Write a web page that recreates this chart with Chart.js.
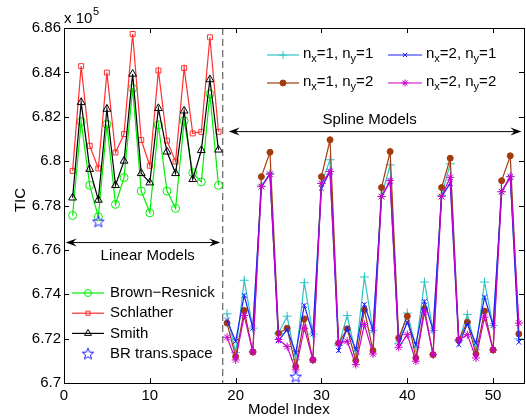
<!DOCTYPE html>
<html lang="en">
<head>
<meta charset="UTF-8">
<title>TIC vs Model Index</title>
<script src="https://cdn.jsdelivr.net/npm/chart.js@4.4.0/dist/chart.umd.min.js"></script>
<style>
  html, body { margin: 0; padding: 0; background: #fff; }
  #wrap { position: relative; width: 526px; height: 418px; }
</style>
</head>
<body>
<div id="wrap"><canvas id="c" width="526" height="418"></canvas></div>
<script>
// axis ticks
const xTicks = [0, 10, 20, 30, 40, 50];
const yTicks = [6.7, 6.72, 6.74, 6.76, 6.78, 6.8, 6.82, 6.84, 6.86];

// linear models, index 1..18 (TIC x 10^5)
const linearIdx = [1, 2, 3, 4, 5, 6, 7, 8, 9, 10, 11, 12, 13, 14, 15, 16, 17, 18];
const brownResnick = [6.7755, 6.8178, 6.7891, 6.7749, 6.8166, 6.7805, 6.7926, 6.8328, 6.7865,
  6.7767, 6.8163, 6.7865, 6.7787, 6.8182, 6.7948, 6.7906, 6.8303, 6.7891];
const schlather = [6.7956, 6.8428, 6.8069, 6.7967, 6.8399, 6.8039, 6.8122, 6.8573, 6.8095,
  6.7979, 6.8408, 6.8092, 6.7998, 6.8419, 6.8125, 6.8132, 6.8558, 6.8132];
const smith = [6.7835, 6.8265, 6.7964, 6.7825, 6.8235, 6.7891, 6.8001, 6.8393, 6.7945,
  6.7903, 6.8238, 6.8042, 6.7945, 6.8227, 6.7918, 6.8049, 6.8368, 6.8051];
const brTransIdx = [4, 27];
const brTrans = [6.7728, 6.7029];

// spline models, index 19..53
const splineIdx = [19, 20, 21, 22, 23, 24, 25, 26, 27, 28, 29, 30, 31, 32, 33, 34, 35, 36,
  37, 38, 39, 40, 41, 42, 43, 44, 45, 46, 47, 48, 49, 50, 51, 52, 53];
const nx1ny1 = [6.7312, 6.7138, 6.7463, 6.7247, 6.7888, 6.7945, 6.7224, 6.7301, 6.7105, 6.7452,
  6.7221, 6.7900, 6.8006, 6.7170, 6.7304, 6.7130, 6.7478, 6.7237, 6.7840, 6.7983, 6.7179,
  6.7315, 6.7160, 6.7455, 6.7237, 6.7845, 6.7988, 6.7190, 6.7309, 6.7150, 6.7455, 6.7259,
  6.7862, 6.7930, 6.7199];
const nx1ny2 = [6.7270, 6.7119, 6.7327, 6.7140, 6.7930, 6.8040, 6.7224, 6.7247, 6.7074, 6.7289,
  6.7104, 6.7930, 6.8096, 6.7179, 6.7244, 6.7101, 6.7330, 6.7146, 6.7881, 6.8043, 6.7203,
  6.7301, 6.7113, 6.7335, 6.7128, 6.7881, 6.8013, 6.7194, 6.7274, 6.7131, 6.7324, 6.7149,
  6.7912, 6.8024, 6.7221];
const nx2ny1 = [6.7282, 6.7188, 6.7395, 6.7247, 6.7885, 6.7941, 6.7191, 6.7241, 6.7135, 6.7350,
  6.7221, 6.7878, 6.7953, 6.7146, 6.7247, 6.7151, 6.7354, 6.7237, 6.7840, 6.7908, 6.7179,
  6.7274, 6.7173, 6.7368, 6.7237, 6.7840, 6.7900, 6.7173, 6.7267, 6.7179, 6.7387, 6.7259,
  6.7862, 6.7927, 6.7184];
const nx2ny2 = [6.7206, 6.7104, 6.7304, 6.7140, 6.7885, 6.7941, 6.7196, 6.7164, 6.7059, 6.7247,
  6.7104, 6.7900, 6.7953, 6.7179, 6.7188, 6.7083, 6.7264, 6.7131, 6.7840, 6.7912, 6.7161,
  6.7218, 6.7098, 6.7319, 6.7128, 6.7840, 6.7927, 6.7194, 6.7218, 6.7113, 6.7297, 6.7149,
  6.7862, 6.7930, 6.7270];

const FONT = "'Liberation Sans', Arial, Helvetica, sans-serif";
const C = {
  green: '#00ee00', red: '#ff3030', black: '#000000', star: '#1a1aff',
  cyan: '#2ec4c4', brown: '#a33a0c', blue: '#1f1fff', magenta: '#cc00cc'
};

function pts(xs, ys) { return xs.map((x, i) => ({ x: x, y: ys[i] })); }

// 5-point star marker (MATLAB 'p')
function starImage(color) {
  const cv = document.createElement('canvas');
  cv.width = 14; cv.height = 14;
  const g = cv.getContext('2d');
  g.strokeStyle = color; g.lineWidth = 1;
  g.beginPath();
  for (let i = 0; i < 10; i++) {
    const r = i % 2 ? 2.6 : 6;
    const a = -Math.PI / 2 + i * Math.PI / 5;
    const px = 7 + r * Math.cos(a), py = 7.5 + r * Math.sin(a);
    if (i) g.lineTo(px, py); else g.moveTo(px, py);
  }
  g.closePath(); g.stroke();
  return cv;
}
const starImg = starImage(C.star);

function ds(label, xs, ys, color, style, radius, filled) {
  return {
    label: label, data: pts(xs, ys),
    borderColor: color, borderWidth: 1.2,
    pointStyle: style, pointRadius: radius, pointBorderWidth: 1,
    pointBorderColor: color, pointBackgroundColor: filled ? color : 'rgba(0,0,0,0)',
    tension: 0, fill: false
  };
}

const datasets = [
  { label: 'BR trans.space', data: pts(brTransIdx, brTrans), showLine: false,
    pointStyle: starImg, pointRadius: 6, borderColor: C.star, backgroundColor: C.star },
  ds('Smith', linearIdx, smith, C.black, 'triangle', 4.5, false),
  ds('Schlather', linearIdx, schlather, C.red, 'rect', 3.5, false),
  ds('Brown-Resnick', linearIdx, brownResnick, C.green, 'circle', 4, false),
  ds('nx2ny2', splineIdx, nx2ny2, C.magenta, 'star', 4, false),
  ds('nx2ny1', splineIdx, nx2ny1, C.blue, 'crossRot', 3.5, false),
  ds('nx1ny2', splineIdx, nx1ny2, C.brown, 'circle', 3, true),
  ds('nx1ny1', splineIdx, nx1ny1, C.cyan, 'cross', 4.5, false)
];

function arrowHead(ctx, x, y, dir) {
  // notched arrow head pointing in dir (+1 right, -1 left)
  ctx.beginPath();
  ctx.moveTo(x, y);
  ctx.lineTo(x - dir * 11, y - 4);
  ctx.lineTo(x - dir * 7, y);
  ctx.lineTo(x - dir * 11, y + 4);
  ctx.closePath();
  ctx.fill();
}

function doubleArrow(ctx, x1, x2, y) {
  ctx.strokeStyle = '#000'; ctx.fillStyle = '#000'; ctx.lineWidth = 1;
  ctx.beginPath(); ctx.moveTo(x1 + 6, y); ctx.lineTo(x2 - 6, y); ctx.stroke();
  arrowHead(ctx, x1, y, -1);
  arrowHead(ctx, x2, y, 1);
}

function legendMark(ctx, x1, x2, y, color, style, radius, filled, noLine) {
  ctx.save();
  if (!noLine) {
    ctx.strokeStyle = color; ctx.lineWidth = 1.2;
    ctx.beginPath(); ctx.moveTo(x1, y); ctx.lineTo(x2, y); ctx.stroke();
  }
  ctx.strokeStyle = color; ctx.fillStyle = filled ? color : 'rgba(0,0,0,0)'; ctx.lineWidth = 1;
  Chart.helpers.drawPoint(ctx, { pointStyle: style, radius: radius, rotation: 0, borderWidth: 1 }, (x1 + x2) / 2, y);
  ctx.restore();
}

// n_x=a, n_y=b with subscripts
function subLabel(ctx, x, y, a, b) {
  const parts = [['n', 0], ['x', 1], ['=' + a + ', n', 0], ['y', 1], ['=' + b, 0]];
  ctx.textBaseline = 'middle'; ctx.textAlign = 'left'; ctx.fillStyle = '#000';
  parts.forEach(p => {
    ctx.font = (p[1] ? '11px ' : '15px ') + FONT;
    ctx.fillText(p[0], x, y + (p[1] ? 5 : 0));
    x += ctx.measureText(p[0]).width;
  });
}

const decor = {
  id: 'decor',
  beforeDatasetsDraw(chart) {
    const { ctx, chartArea: a, scales: { x } } = chart;
    const px = x.getPixelForValue(18.5);
    ctx.save();
    ctx.strokeStyle = '#444'; ctx.lineWidth = 1; ctx.setLineDash([7, 4]);
    ctx.beginPath(); ctx.moveTo(px, a.top); ctx.lineTo(px, a.bottom); ctx.stroke();
    ctx.restore();
  },
  afterDraw(chart) {
    const { ctx, chartArea: a, scales: { x, y } } = chart;
    ctx.save();
    // box and inward ticks
    ctx.strokeStyle = '#000'; ctx.lineWidth = 1;
    ctx.strokeRect(Math.round(a.left) + 0.5, Math.round(a.top) + 0.5,
      Math.round(a.right - a.left), Math.round(a.bottom - a.top));
    ctx.beginPath();
    xTicks.forEach(v => {
      const p = Math.round(x.getPixelForValue(v)) + 0.5;
      ctx.moveTo(p, a.bottom); ctx.lineTo(p, a.bottom - 5);
      ctx.moveTo(p, a.top); ctx.lineTo(p, a.top + 5);
    });
    yTicks.forEach(v => {
      const p = Math.round(y.getPixelForValue(v)) + 0.5;
      ctx.moveTo(a.left, p); ctx.lineTo(a.left + 5, p);
      ctx.moveTo(a.right, p); ctx.lineTo(a.right - 5, p);
    });
    ctx.stroke();

    // exponent label
    ctx.fillStyle = '#000'; ctx.textAlign = 'left'; ctx.textBaseline = 'alphabetic';
    ctx.font = '15px ' + FONT;
    ctx.fillText('x 10', 64, 23);
    ctx.font = '11px ' + FONT;
    ctx.fillText('5', 93, 15);

    // axis titles
    ctx.font = '15px ' + FONT; ctx.textAlign = 'center'; ctx.textBaseline = 'middle';
    ctx.fillText('Model Index', x.getPixelForValue(26.2), 410);
    ctx.save();
    ctx.translate(21, 200); ctx.rotate(-Math.PI / 2);
    ctx.fillText('TIC', 0, 0);
    ctx.restore();

    // region annotations
    const yLin = y.getPixelForValue(6.7633);
    doubleArrow(ctx, x.getPixelForValue(0.2), x.getPixelForValue(18.2), yLin);
    ctx.fillStyle = '#000'; ctx.textAlign = 'center'; ctx.textBaseline = 'middle';
    ctx.font = '15px ' + FONT;
    ctx.fillText('Linear Models', x.getPixelForValue(9.75), yLin + 13);
    const ySpl = y.getPixelForValue(6.8133);
    doubleArrow(ctx, x.getPixelForValue(19.2), x.getPixelForValue(53.3), ySpl);
    ctx.fillStyle = '#000';
    ctx.fillText('Spline Models', x.getPixelForValue(35.6), ySpl - 12);

    // lower-left legend
    const ll = [
      ['Brown\u2212Resnick', C.green, 'circle', 3.5, false, false],
      ['Schlather', C.red, 'rect', 3, false, false],
      ['Smith', C.black, 'triangle', 4, false, false],
      ['BR trans.space', C.star, starImg, 6, false, true]
    ];
    ll.forEach((e, i) => {
      const yy = 293 + i * 20.2;
      legendMark(ctx, 72, 104, yy, e[1], e[2], e[3], e[4], e[5]);
      ctx.fillStyle = '#000'; ctx.textAlign = 'left'; ctx.textBaseline = 'middle';
      ctx.font = '15px ' + FONT;
      ctx.fillText(e[0], 110, yy);
    });

    // upper-right legend
    const ur = [
      [267, 299, 303, 55, C.cyan, 'cross', 4, false, 1, 1],
      [388, 422, 426, 55, C.blue, 'crossRot', 3, false, 2, 1],
      [267, 299, 303, 83, C.brown, 'circle', 3, true, 1, 2],
      [388, 422, 426, 83, C.magenta, 'star', 3.5, false, 2, 2]
    ];
    ur.forEach(e => {
      legendMark(ctx, e[0], e[1], e[3], e[4], e[5], e[6], e[7], false);
      subLabel(ctx, e[2], e[3] - 1, e[8], e[9]);
    });
    ctx.restore();
  }
};

new Chart(document.getElementById('c'), {
  type: 'line',
  data: { datasets: datasets },
  options: {
    responsive: false, animation: false,
    layout: { autoPadding: false, padding: { left: 0, right: 2, top: 28, bottom: 0 } },
    plugins: { legend: { display: false }, tooltip: { enabled: false } },
    scales: {
      x: {
        type: 'linear', min: 0, max: 53.6,
        grid: { display: false, drawTicks: false }, border: { display: false },
        afterBuildTicks: s => { s.ticks = xTicks.map(v => ({ value: v })); },
        afterFit: s => { s.height = 35; },
        ticks: { padding: 4, color: '#000', font: { family: FONT, size: 15 }, maxRotation: 0 }
      },
      y: {
        type: 'linear', min: 6.7, max: 6.86,
        grid: { display: false, drawTicks: false }, border: { display: false },
        afterBuildTicks: s => { s.ticks = yTicks.map(v => ({ value: v })); },
        afterFit: s => { s.width = 64; },
        ticks: { padding: 3, color: '#000', font: { family: FONT, size: 15 },
          callback: v => String(+v.toFixed(2)) }
      }
    }
  },
  plugins: [decor]
});
</script>
</body>
</html>
